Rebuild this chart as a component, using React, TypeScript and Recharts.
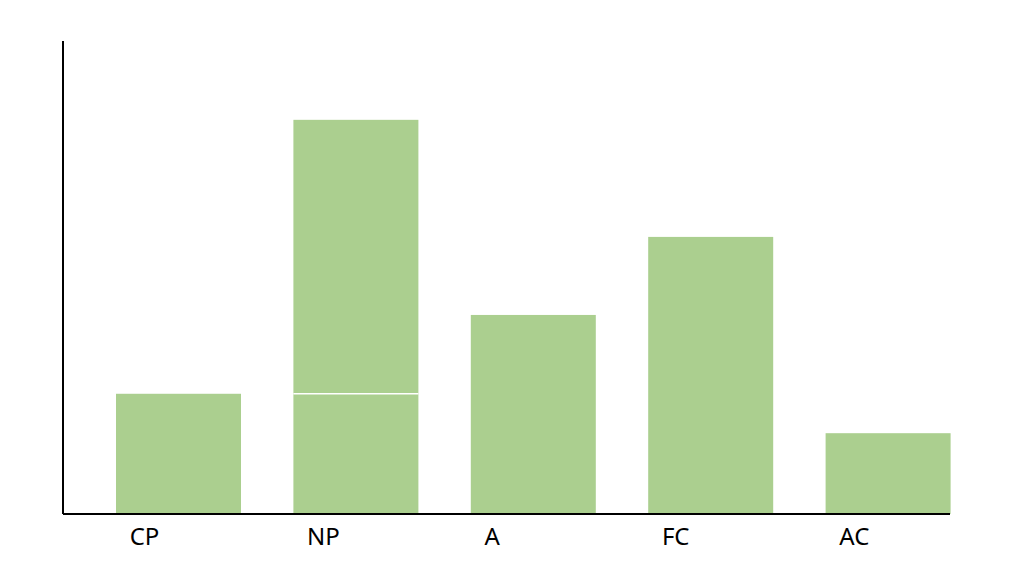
import { BarChart, Bar, XAxis, YAxis } from "recharts"

const categories = ["CP", "NP", "A", "FC", "AC"]
const baseValues = [3.05, 3.05, 5.05, 7.03, 2.05]
const topValues = [0, 6.95, 0, 0, 0]

const data = categories.map((name, i) => ({
  name,
  base: baseValues[i],
  top: topValues[i],
}))

const GREEN = "#abcf8f"
const SHIFT = 27

const ShiftedBar = (props: any) => {
  const { x, y, width, height } = props
  if (!height || height <= 0) return null
  return <rect x={x + SHIFT} y={y} width={width} height={height} fill={GREEN} />
}

const TopBar = (props: any) => {
  const { x, y, width, height } = props
  if (!height || height <= 0) return null
  return (
    <g>
      <rect x={x + SHIFT} y={y} width={width} height={height} fill={GREEN} />
      <line x1={x + SHIFT} x2={x + SHIFT + width} y1={y + height} y2={y + height} stroke="#fff" strokeWidth={1.5} />
    </g>
  )
}

const CategoryTick = (props: any) => {
  const { x, y, payload } = props
  return (
    <text x={x - 22} y={y} dy={23} textAnchor="start" fill="#000" fontSize={24} fontFamily="'Noto Sans', sans-serif">
      {payload.value}
    </text>
  )
}

export default function App() {
  return (
    <div style={{ width: 1000, height: 567, background: "#fff" }}>
      <BarChart
        width={1000}
        height={567}
        data={data}
        margin={{ top: 33, right: 58, left: 54, bottom: 31 }}
        barCategoryGap={0}
      >
        <XAxis
          dataKey="name"
          height={30}
          axisLine={{ stroke: "#000", strokeWidth: 2 }}
          tickLine={false}
          tick={<CategoryTick />}
          interval={0}
        />
        <YAxis
          width={1}
          domain={[0, 12]}
          allowDataOverflow
          tick={false}
          tickLine={false}
          axisLine={{ stroke: "#000", strokeWidth: 2 }}
        />
        <Bar dataKey="base" stackId="s" barSize={125} shape={<ShiftedBar />} isAnimationActive={false} />
        <Bar dataKey="top" stackId="s" barSize={125} shape={<TopBar />} isAnimationActive={false} />
      </BarChart>
    </div>
  )
}
